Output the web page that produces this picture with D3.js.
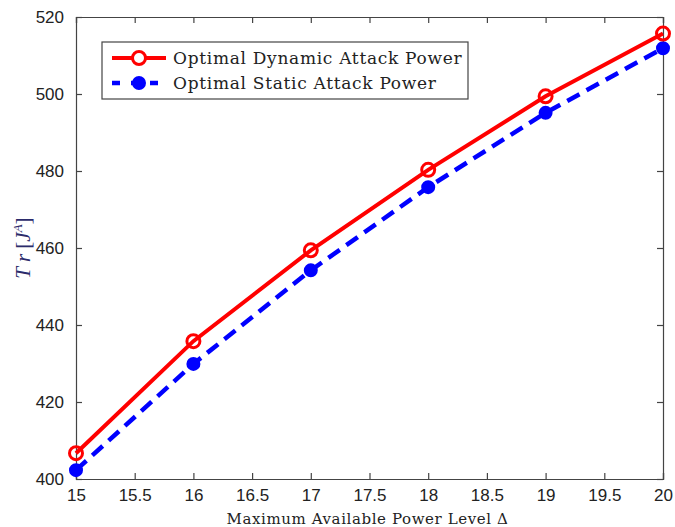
<!DOCTYPE html>
<html>
<head>
<meta charset="utf-8">
<script src="https://cdnjs.cloudflare.com/ajax/libs/d3/7.8.5/d3.min.js"></script>
<style>
  body { margin: 0; background: #fff; }
</style>
</head>
<body>
<div id="chart"></div>
<script>
var powerLevels = [15, 16, 17, 18, 19, 20];
var dynamicPower = [406.7, 435.8, 459.4, 480.3, 499.4, 515.7];
var staticPower = [402.3, 429.9, 454.2, 475.8, 495.1, 511.9];
var xTicks = [15, 15.5, 16, 16.5, 17, 17.5, 18, 18.5, 19, 19.5, 20];
var yTicks = [400, 420, 440, 460, 480, 500, 520];
var seriesNames = ["Optimal Dynamic Attack Power", "Optimal Static Attack Power"];

function init(){
    var w = 675, h = 527;
    var left = 76, right = 663, top = 17, bottom = 479;
    var serif = "'DejaVu Serif', 'Liberation Serif', serif";

    var svg = d3.select("#chart").append("svg")
      .attr("width", w).attr("height", h);

    var xScale = d3.scaleLinear().domain([15, 20]).range([left, right]);
    var yScale = d3.scaleLinear().domain([400, 520]).range([bottom, top]);

    // axes with inward ticks on all four sides
    var xAxis = d3.axisBottom(xScale).tickValues(xTicks).tickSize(-6).tickPadding(10)
      .tickFormat(d3.format("~g"));
    var yAxis = d3.axisLeft(yScale).tickValues(yTicks).tickSize(-6).tickPadding(12);
    var xTop = d3.axisTop(xScale).tickValues(xTicks).tickSize(-6).tickFormat("");
    var yRight = d3.axisRight(yScale).tickValues(yTicks).tickSize(-6).tickFormat("");

    var gs = [
      svg.append("g").attr("transform", "translate(0," + bottom + ")").call(xAxis),
      svg.append("g").attr("transform", "translate(" + left + ",0)").call(yAxis),
      svg.append("g").attr("transform", "translate(0," + top + ")").call(xTop),
      svg.append("g").attr("transform", "translate(" + right + ",0)").call(yRight)
    ];
    gs.forEach(function(g){
      g.select(".domain").attr("stroke", "#444").attr("stroke-width", 1.2);
      g.selectAll(".tick line").attr("stroke", "#444").attr("stroke-width", 1.2);
      g.selectAll(".tick text")
        .attr("font-family", "'Liberation Sans', Arial, sans-serif")
        .attr("font-size", 17).attr("fill", "#222");
    });

    var line = d3.line()
      .x(function(d, i){ return xScale(powerLevels[i]); })
      .y(function(d){ return yScale(d); });

    // static (blue dashed)
    svg.append("path").datum(staticPower)
      .attr("d", line).attr("fill", "none")
      .attr("stroke", "#0000ff").attr("stroke-width", 4.5)
      .attr("stroke-dasharray", "14,8");
    svg.selectAll(".sm").data(staticPower).enter().append("circle")
      .attr("cx", function(d, i){ return xScale(powerLevels[i]); })
      .attr("cy", function(d){ return yScale(d); })
      .attr("r", 5.5).attr("fill", "#0000ff")
      .attr("stroke", "#0000ff").attr("stroke-width", 3);

    // dynamic (red solid)
    svg.append("path").datum(dynamicPower)
      .attr("d", line).attr("fill", "none")
      .attr("stroke", "#ff0000").attr("stroke-width", 4);
    svg.selectAll(".dm").data(dynamicPower).enter().append("circle")
      .attr("cx", function(d, i){ return xScale(powerLevels[i]); })
      .attr("cy", function(d){ return yScale(d); })
      .attr("r", 6.5).attr("fill", "none")
      .attr("stroke", "#ff0000").attr("stroke-width", 3);

    // legend
    var lg = svg.append("g");
    lg.append("rect").attr("x", 102).attr("y", 42).attr("width", 366).attr("height", 57)
      .attr("fill", "#fff").attr("stroke", "#444").attr("stroke-width", 1.2);
    lg.append("line").attr("x1", 112).attr("x2", 166).attr("y1", 58).attr("y2", 58)
      .attr("stroke", "#ff0000").attr("stroke-width", 4);
    lg.append("circle").attr("cx", 139).attr("cy", 58).attr("r", 6.5)
      .attr("fill", "#fff").attr("stroke", "#ff0000").attr("stroke-width", 3);
    lg.append("line").attr("x1", 112).attr("x2", 166).attr("y1", 83).attr("y2", 83)
      .attr("stroke", "#0000ff").attr("stroke-width", 4.5).attr("stroke-dasharray", "8,11");
    lg.append("circle").attr("cx", 139).attr("cy", 83).attr("r", 5.5)
      .attr("fill", "#0000ff").attr("stroke", "#0000ff").attr("stroke-width", 3);
    lg.selectAll("text.lbl").data(seriesNames).enter().append("text")
      .attr("x", 173).attr("y", function(d, i){ return 64 + i * 25; })
      .attr("font-family", serif).attr("letter-spacing", 0.7)
      .attr("font-size", 17).attr("fill", "#222")
      .text(function(d){ return d; });

    // axis titles
    svg.append("text").attr("x", (left + right) / 2 - 2).attr("y", 524)
      .attr("text-anchor", "middle")
      .attr("font-family", serif).attr("letter-spacing", 0.6)
      .attr("font-size", 15).attr("fill", "#222")
      .text("Maximum Available Power Level \u0394");

    var yl = svg.append("text")
      .attr("transform", "translate(30,248) rotate(-90)")
      .attr("text-anchor", "middle")
      .attr("font-family", "'Liberation Serif', serif")
      .attr("font-size", 21).attr("fill", "#2b2b6b").attr("font-style", "italic");
    yl.append("tspan").text("T r ");
    yl.append("tspan").attr("font-style", "normal").text("[");
    yl.append("tspan").text("J");
    yl.append("tspan").attr("font-size", 13).attr("dy", -8).text("A");
    yl.append("tspan").attr("font-style", "normal").attr("dy", 8).text("]");
}

window.onload = init;
</script>
</body>
</html>
